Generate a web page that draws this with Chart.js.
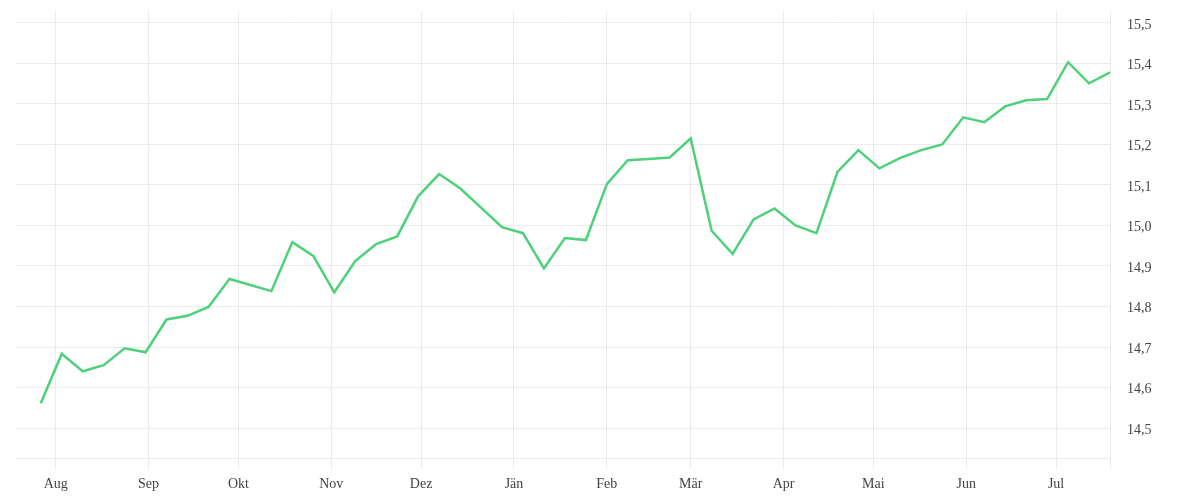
<!DOCTYPE html>
<html>
<head>
<meta charset="utf-8">
<script src="https://cdn.jsdelivr.net/npm/chart.js@4"></script>
<style>
  html, body { margin: 0; padding: 0; background: #fff; }
  #wrap { width: 1200px; height: 500px; }
</style>
</head>
<body>
<div id="wrap"><canvas id="lineChart"></canvas></div>
<script>
// weekly observations
const dates = [
    '2022-07-27', '2022-08-03', '2022-08-10', '2022-08-17', '2022-08-24', '2022-08-31',
    '2022-09-07', '2022-09-14', '2022-09-21', '2022-09-28',
    '2022-10-05', '2022-10-12', '2022-10-19', '2022-10-26',
    '2022-11-02', '2022-11-09', '2022-11-16', '2022-11-23', '2022-11-30',
    '2022-12-07', '2022-12-14', '2022-12-21', '2022-12-28',
    '2023-01-04', '2023-01-11', '2023-01-18', '2023-01-25',
    '2023-02-01', '2023-02-08', '2023-02-15', '2023-02-22',
    '2023-03-01', '2023-03-08', '2023-03-15', '2023-03-22', '2023-03-29',
    '2023-04-05', '2023-04-12', '2023-04-19', '2023-04-26',
    '2023-05-03', '2023-05-10', '2023-05-17', '2023-05-24', '2023-05-31',
    '2023-06-07', '2023-06-14', '2023-06-21', '2023-06-28',
    '2023-07-05', '2023-07-12', '2023-07-19'
];
const values = [
    14.561, 14.683, 14.640, 14.655, 14.697, 14.687, 14.768, 14.777, 14.799, 14.868,
    14.853, 14.838, 14.959, 14.925, 14.835, 14.912, 14.954, 14.973, 15.072, 15.127,
    15.092, 15.044, 14.996, 14.981, 14.894, 14.969, 14.964, 15.102, 15.161, 15.164,
    15.168, 15.215, 14.987, 14.930, 15.015, 15.042, 15.000, 14.981, 15.132, 15.186,
    15.141, 15.167, 15.186, 15.200, 15.267, 15.255, 15.294, 15.309, 15.312, 15.403,
    15.351, 15.378
];

// month ticks
const monthDates = [
    '2022-08-01', '2022-09-01', '2022-10-01', '2022-11-01', '2022-12-01', '2023-01-01',
    '2023-02-01', '2023-03-01', '2023-04-01', '2023-05-01', '2023-06-01', '2023-07-01'
];
const monthLabels = ['Aug', 'Sep', 'Okt', 'Nov', 'Dez', 'Jän', 'Feb', 'Mär', 'Apr', 'Mai', 'Jun', 'Jul'];
const yTicks = [14.5, 14.6, 14.7, 14.8, 14.9, 15.0, 15.1, 15.2, 15.3, 15.4, 15.5];

const DAY = 86400000;
const origin = Date.UTC(2022, 7, 1);
function toDay(s) {
    const p = s.split('-').map(Number);
    return (Date.UTC(p[0], p[1] - 1, p[2]) - origin) / DAY;
}

const points = dates.map((d, i) => ({ x: toDay(d), y: values[i] }));
const monthDays = monthDates.map(toDay);
const lastDay = toDay(dates[dates.length - 1]);

const fontFamily = '"Liberation Serif", "DejaVu Serif", serif';
const gridColor = '#ebebeb';

function noPadding(scale) {
    scale.paddingTop = 0;
    scale.paddingBottom = 0;
    scale.paddingLeft = 0;
    scale.paddingRight = 0;
}

const lineChart = new Chart(document.getElementById('lineChart'), {
    type: 'line',
    data: {
        datasets: [{
            data: points,
            borderColor: '#4ed17b',
            borderWidth: 2.5,
            pointRadius: 0,
            tension: 0,
            fill: false
        }]
    },
    options: {
        responsive: true,
        maintainAspectRatio: false,
        animation: false,
        layout: { padding: { left: 15, top: 12, right: 0, bottom: 0 } },
        plugins: {
            legend: { display: false },
            tooltip: { enabled: false }
        },
        scales: {
            x: {
                type: 'linear',
                min: -13.6,
                max: lastDay,
                afterBuildTicks: scale => {
                    scale.ticks = monthDays.map(v => ({ value: v })).concat([{ value: lastDay }]);
                },
                afterFit: scale => {
                    scale.height = 42;
                    noPadding(scale);
                },
                ticks: {
                    autoSkip: false,
                    maxRotation: 0,
                    padding: 8,
                    color: '#444',
                    font: { family: fontFamily, size: 14 },
                    callback: value => {
                        const i = monthDays.indexOf(value);
                        return i >= 0 ? monthLabels[i] : '';
                    }
                },
                grid: { color: gridColor, tickLength: 10, tickColor: gridColor },
                border: { display: true, color: gridColor }
            },
            y: {
                position: 'right',
                min: 14.426,
                max: 15.527,
                afterBuildTicks: scale => {
                    scale.ticks = yTicks.map(v => ({ value: v }));
                },
                afterFit: scale => {
                    scale.width = 90;
                    noPadding(scale);
                },
                ticks: {
                    padding: 17,
                    labelOffset: 2,
                    color: '#444',
                    font: { family: fontFamily, size: 14 },
                    callback: value => value.toFixed(1).replace('.', ',')
                },
                grid: { color: gridColor, drawTicks: false },
                border: { display: true, color: gridColor }
            }
        }
    }
});
</script>
</body>
</html>
